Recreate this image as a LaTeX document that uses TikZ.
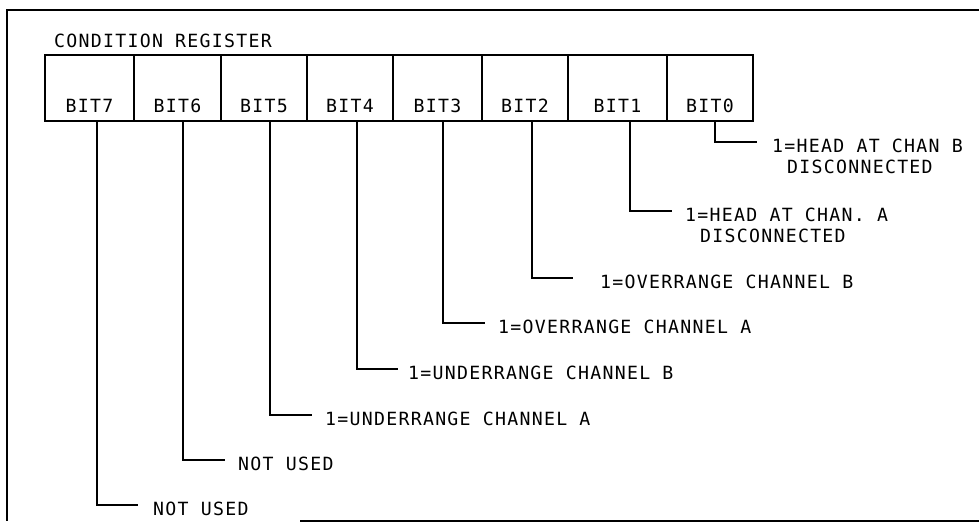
\documentclass[tikz,border=0pt]{standalone}
\usepackage{fontspec}
\newfontfamily\plotfont[LetterSpace=7]{DejaVu Sans Mono}
\usetikzlibrary{positioning}

\tikzset{
    cell/.style={draw, line width=2pt, minimum height=66pt, inner sep=0pt},
    bitname/.style={font=\plotfont\fontsize{18.2}{21}\selectfont, inner sep=0pt, anchor=south},
    note/.style={font=\plotfont\fontsize{18.2}{21}\selectfont, inner sep=0pt, align=left},
    wire/.style={line width=1.6pt},
}

\begin{document}
\begin{tikzpicture}[x=1pt, y=-1pt]
    \useasboundingbox (0,0) rectangle (979,524);
    % frame
    \draw[line width=2pt] (979,10) -- (7,10) -- (7,521);
    \draw[line width=2pt] (300,521) -- (979,521);

    \node[note, anchor=west] (title) at (54,41) {CONDITION REGISTER};

    % register cells
    \foreach \n/\xl/\xr in {7/45/134, 6/134/221, 5/221/307, 4/307/393, 3/393/482, 2/482/568, 1/568/667, 0/667/753}{
        \node[cell, minimum width={(\xr-\xl)*1pt}] (b\n) at ({(\xl+\xr)/2}, 88) {};
        \node[bitname] (t\n) at ([yshift=9pt]b\n.south) {BIT\n};
    }

    % corners of the leaders
    \foreach \n/\lx/\ly/\ex in {7/97/505/138, 6/183/460/225, 5/270/415/312, 4/357/369/398, 3/443/323/485, 2/532/278/573, 1/630/211/672, 0/715/142/757}{
        \coordinate (c\n) at (\lx,\ly);
        \coordinate (k\n) at (\ex,\ly);
    }

    % bit meanings
    \node[note, anchor=west] (n7) at ([xshift=15pt, yshift=-4pt]k7) {NOT USED};
    \node[note, anchor=west] (n6) at ([xshift=13pt, yshift=-4pt]k6) {NOT USED};
    \node[note, anchor=west] (n5) at ([xshift=13pt, yshift=-4pt]k5) {1=UNDERRANGE CHANNEL A};
    \node[note, anchor=west] (n4) at ([xshift=10pt, yshift=-4pt]k4) {1=UNDERRANGE CHANNEL B};
    \node[note, anchor=west] (n3) at ([xshift=13pt, yshift=-4pt]k3) {1=OVERRANGE CHANNEL A};
    \node[note, anchor=west] (n2) at ([xshift=27pt, yshift=-4pt]k2) {1=OVERRANGE CHANNEL B};
    \node[note, anchor=north west] (n1) at ([xshift=13pt, yshift=3pt]k1) {1=HEAD AT CHAN. A\\\hspace*{15pt}DISCONNECTED};
    \node[note, anchor=north west] (n0) at ([xshift=15pt, yshift=3pt]k0) {1=HEAD AT CHAN B\\\hspace*{15pt}DISCONNECTED};

    % leaders
    \foreach \n in {7,6,5,4,3,2,1,0}{
        \draw[wire] (b\n.south -| c\n) -- (c\n) -- (k\n);
    }
\end{tikzpicture}
\end{document}
